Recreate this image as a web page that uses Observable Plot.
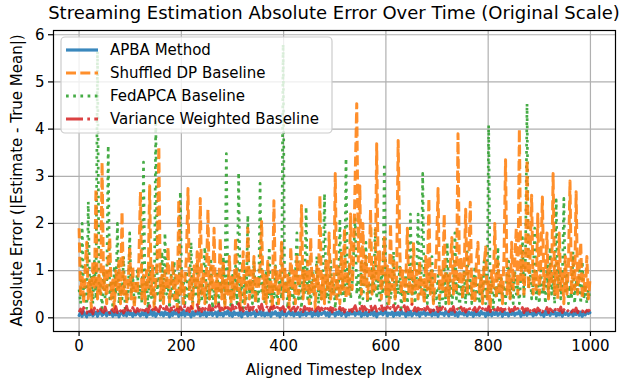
<!DOCTYPE html>
<html>
<head>
<meta charset="utf-8">
<script src="https://cdn.jsdelivr.net/npm/d3@7"></script>
<script src="https://cdn.jsdelivr.net/npm/@observablehq/plot@0.6"></script>
<style>
  html, body { margin: 0; padding: 0; background: white; }
  #chart svg { display: block; }
</style>
</head>
<body>
<div id="chart"></div>
<script>
// ---- data (one sample every 3 timesteps) ----
const titleText = "Streaming Estimation Absolute Error Over Time (Original Scale)";
const xLabel = "Aligned Timestep Index";
const yLabel = "Absolute Error (|Estimate - True Mean|)";
const xTicks = [0, 200, 400, 600, 800, 1000];
const yTicks = [0, 1, 2, 3, 4, 5, 6];
const sampleStep = 3;

const seriesNames = ["APBA Method", "Shuffled DP Baseline", "FedAPCA Baseline", "Variance Weighted Baseline"];

const apba = [
  .05,.11,.03,.13,.07,.02,.12,.06,.14,.04,.09,.12,.03,.1,.15,.05,.08,.13,.04,.11,
  .07,.14,.03,.1,.06,.12,.02,.09,.13,.05,.11,.04,.15,.07,.1,.03,.12,.06,.14,.08,
  .04,.11,.06,.13,.02,.1,.07,.15,.05,.12,.03,.09,.14,.06,.11,.04,.13,.07,.1,.02,
  .12,.05,.14,.08,.11,.03,.1,.06,.16,.04,.12,.07,.09,.02,.13,.05,.11,.08,.14,.04,
  .1,.06,.13,.03,.11,.07,.15,.05,.09,.12,.03,.14,.06,.1,.04,.12,.08,.15,.05,.11,
  .03,.13,.07,.1,.05,.14,.02,.11,.08,.12,.04,.16,.06,.09,.13,.03,.11,.07,.14,.05,
  .12,.04,.1,.06,.15,.03,.11,.08,.13,.05,.1,.02,.14,.07,.12,.04,.09,.13,.06,.11,
  .04,.14,.07,.11,.03,.12,.06,.15,.05,.1,.08,.13,.03,.11,.06,.14,.04,.12,.07,.1,
  .13,.05,.11,.03,.14,.08,.1,.04,.12,.07,.16,.05,.09,.13,.03,.11,.06,.14,.08,.12,
  .05,.12,.08,.14,.03,.1,.06,.13,.04,.11,.07,.15,.05,.12,.02,.1,.08,.13,.06,.11,
  .14,.04,.1,.07,.12,.03,.13,.06,.11,.05,.15,.08,.1,.03,.12,.06,.14,.04,.09,.12,
  .06,.13,.03,.11,.08,.14,.05,.1,.07,.12,.04,.16,.06,.11,.03,.13,.08,.1,.05,.14,
  .09,.04,.12,.07,.15,.05,.11,.03,.13,.08,.1,.06,.14,.04,.12,.07,.11,.03,.13,.06,
  .11,.05,.14,.08,.1,.03,.12,.06,.15,.04,.11,.07,.13,.05,.09,.12,.03,.14,.07,.1,
  .04,.12,.07,.13,.05,.1,.08,.15,.03,.11,.06,.14,.05,.12,.08,.1,.04,.13,.06,.11,
  .13,.06,.1,.03,.14,.07,.12,.05,.11,.08,.15,.04,.1,.06,.13,.03,.12,.07,.11,.05,
  .08,.13,.04,.11,.07,.14,.05,.12,.03,.1,.06,.13,.09,.11
];

const shuffledDP = [
  1.9,.5,.9,.3,1.1,1.6,.4,.8,.2,1.2,.6,2.74,.4,.9,.5,3.3,.6,1.0,.3,1.3,
  1.7,.4,.8,.2,1.0,.6,1.2,.3,2.25,.5,.9,.3,.7,1.5,.4,1.1,.2,.8,.5,1.2,
  2.67,.4,.9,.3,1.0,.6,2.8,.5,1.1,.2,.7,1.3,3.63,.4,.9,.3,1.0,.6,1.5,.3,
  .8,1.2,.4,.9,.2,2.5,.5,1.0,.3,.8,1.3,2.74,.4,.9,.2,1.1,.6,1.4,.3,2.53,
  .5,1.0,.3,.8,2.3,.4,1.1,.6,1.9,.3,.9,.5,1.7,.4,1.2,.2,.8,.5,1.3,.3,
  .9,.4,1.7,.6,1.0,.2,.8,1.4,.3,.7,1.9,.4,1.0,.5,1.3,.3,.9,.6,1.1,2.04,
  .4,.9,.3,1.2,.5,.8,.2,2.48,.6,1.0,.3,.8,1.6,.4,1.1,.5,.9,.2,1.5,.6,
  1.0,.3,1.3,.5,.8,2.38,.4,1.0,.6,1.2,.3,1.7,.5,.9,.2,1.1,.6,2.6,.4,.9,
  .3,1.2,.6,1.8,.4,.9,.5,3.06,.4,1.1,.3,1.4,.6,1.9,.4,1.0,.5,2.2,.6,1.3,
  3.0,4.54,1.2,2.8,.5,2.0,.7,1.3,.4,.9,2.3,.5,1.1,.6,3.69,.8,1.4,.4,1.0,1.7,
  .5,1.1,.3,2.0,.6,1.2,.4,.9,3.76,1.5,.5,1.0,.3,.8,1.9,.5,1.1,.3,1.6,.6,
  1.0,.4,1.2,.5,.8,.3,1.3,.6,2.53,.5,1.0,.3,.9,1.4,2.74,.4,1.0,.6,2.2,.4,
  .9,.3,1.1,1.7,.5,1.2,.6,3.9,.7,1.3,.4,1.0,2.3,.5,1.1,2.45,.4,.9,.3,1.2,
  1.6,.5,.9,.3,1.1,1.5,.4,.8,.2,1.0,.6,2.0,.4,1.2,.5,.9,.3,1.3,3.35,.5,
  1.0,.4,1.6,.6,1.2,1.9,.5,4.0,.8,1.4,.5,1.1,3.35,.6,1.3,2.6,.5,1.0,.6,2.2,
  .5,1.2,2.56,.6,1.0,1.8,.4,1.1,.7,3.06,.5,1.2,.4,1.8,.6,1.0,.3,1.3,.5,1.1,
  2.9,.5,1.2,.6,2.67,.5,1.0,1.6,.4,.9,.5,1.3,.4,.8
];

const fedAPCA = [
  .6,.3,2.0,.4,.8,.2,2.46,.5,.9,.3,1.2,.4,5.65,.5,.7,.2,1.0,.4,.6,3.65,
  .4,.8,.2,1.1,.5,2.0,.3,.7,.4,1.3,.2,.6,.4,1.8,.5,.9,.3,.6,1.0,.4,
  .7,.3,3.3,.5,.8,.2,1.1,.4,.6,.3,4.2,.5,.9,.3,1.4,.4,1.8,.5,.7,.2,
  .9,.4,1.2,.3,.6,.2,2.67,.5,.8,.3,1.0,.4,.6,1.6,.3,.8,.5,1.1,.2,.7,
  .4,.9,1.5,.3,.7,.4,1.2,.2,.6,.4,1.0,.3,.8,.5,1.3,.3,3.48,.5,.8,.2,
  .9,.4,1.1,.3,3.08,.5,.7,.2,1.0,.4,2.17,.5,.8,.3,1.2,.4,.6,.3,2.85,.5,
  .8,.3,1.0,.4,1.5,.2,.7,.4,1.1,.3,.6,.9,.4,5.8,.5,.8,.2,1.0,.4,.7,
  .3,.9,1.8,.4,.7,.2,1.1,.5,2.35,.4,.8,.3,1.0,.5,.7,1.3,.3,.6,.4,.9,
  2.63,.4,.8,.3,1.2,.5,.7,.2,1.0,.4,2.1,.5,.8,.3,3.38,.6,1.1,.4,.7,1.4,
  2.1,.5,.9,.3,1.2,.4,.8,1.6,.3,.7,.4,1.1,.5,1.9,.4,.8,.3,1.0,.5,3.27,
  .6,.3,.9,.4,.7,1.4,.3,.8,.5,1.1,.2,.6,.4,1.0,.3,.7,2.2,.5,.8,.3,
  .9,2.2,.5,.8,3.06,.4,.7,.3,1.0,.5,1.3,.3,.6,.4,.9,.2,.7,.4,1.1,.3,
  1.6,.4,.8,.3,.6,1.8,.4,.9,.2,.7,.4,1.0,.3,1.4,.5,.8,.3,.6,1.1,.4,
  .7,.3,.9,.4,1.2,.3,.6,4.08,.5,.8,.2,.7,.4,1.5,.3,.9,.5,.7,.3,1.0,
  1.2,.4,.8,.3,1.0,.5,.7,.3,.9,1.7,.4,1.3,4.54,.6,1.0,.4,.8,1.9,.4,.7,
  .3,1.0,.5,.8,.3,1.1,.4,1.5,.5,.9,.3,2.5,.6,1.0,.4,.8,2.53,.5,.9,.3,
  .7,.4,1.4,.3,.8,.5,1.0,.3,1.2,.4,.7,.3,.6,.4
];

const varianceWeighted = [
  .12,.19,.09,.22,.14,.1,.2,.13,.17,.08,.21,.12,.16,.1,.19,.14,.11,.23,.13,.17,
  .1,.2,.15,.12,.24,.11,.18,.14,.21,.1,.16,.25,.13,.19,.11,.22,.15,.12,.2,.14,
  .17,.11,.23,.15,.19,.12,.26,.14,.18,.11,.22,.16,.13,.25,.15,.2,.12,.24,.17,.14,
  .21,.13,.27,.16,.19,.12,.23,.18,.14,.26,.15,.21,.13,.24,.17,.2,.14,.28,.16,.19,
  .13,.25,.18,.22,.14,.27,.16,.2,.13,.24,.18,.29,.15,.21,.17,.26,.14,.22,.19,.16,
  .27,.15,.23,.18,.3,.16,.21,.14,.25,.19,.28,.15,.22,.17,.26,.2,.14,.24,.18,.29,
  .16,.22,.19,.27,.14,.23,.18,.25,.15,.21,.28,.16,.2,.24,.13,.22,.18,.26,.15,.2,
  .23,.14,.19,.25,.16,.21,.13,.24,.18,.2,.15,.26,.17,.22,.14,.19,.23,.15,.21,.17,
  .24,.13,.2,.16,.22,.12,.25,.17,.19,.14,.23,.16,.2,.12,.21,.18,.15,.24,.13,.19,
  .26,.15,.22,.18,.29,.14,.24,.17,.21,.13,.27,.16,.2,.25,.14,.23,.18,.28,.15,.21,
  .18,.24,.14,.22,.17,.27,.15,.2,.25,.13,.21,.18,.26,.14,.23,.17,.2,.29,.15,.22,
  .14,.21,.17,.25,.13,.2,.16,.24,.18,.12,.22,.15,.19,.26,.13,.21,.17,.23,.14,.2,
  .22,.13,.19,.16,.24,.12,.21,.17,.14,.23,.15,.2,.12,.18,.25,.14,.19,.16,.22,.13,
  .17,.23,.14,.2,.12,.19,.16,.24,.13,.21,.15,.18,.11,.22,.16,.2,.13,.25,.15,.19,
  .21,.13,.18,.15,.23,.12,.2,.17,.14,.22,.11,.19,.16,.24,.13,.2,.15,.18,.12,.21,
  .15,.2,.12,.18,.14,.22,.11,.19,.16,.13,.21,.12,.18,.15,.23,.11,.17,.2,.13,.16,
  .19,.12,.17,.14,.21,.11,.18,.15,.13,.2,.12,.16,.14,.18
];

// ---- styling ----
const seriesStyle = [
  {values: apba,             color: "#1f77b4", dash: null,             width: 3.0},
  {values: shuffledDP,       color: "#ff7f0e", dash: "10,4.3",         width: 3.0},
  {values: fedAPCA,          color: "#2ca02c", dash: "2.7,4.5",        width: 2.7},
  {values: varianceWeighted, color: "#d62728", dash: "17,4.3,2.7,4.3", width: 2.7}
];
const drawOrder = [0, 2, 1, 3];
const OP = 0.88;
const FONT = "DejaVu Sans, sans-serif";

const W = 629, H = 381;
const mL = 53, mR = 14, mT = 30, mB = 50;

const lineMarks = drawOrder.map(k => {
  const s = seriesStyle[k];
  const rows = s.values.map((v, i) => ({t: i * sampleStep, v, name: seriesNames[k]}));
  return Plot.line(rows, {
    x: "t", y: "v",
    stroke: s.color, strokeWidth: s.width, strokeOpacity: OP,
    strokeDasharray: s.dash || undefined,
    strokeLinecap: s.dash ? "butt" : "round", strokeLinejoin: "round"
  });
});

const plot = Plot.plot({
  width: W, height: H,
  marginLeft: mL, marginRight: mR, marginTop: mT, marginBottom: mB,
  style: {fontFamily: FONT, fontSize: "15px", color: "black", background: "white", overflow: "visible"},
  x: {domain: [-50, 1049], label: null},
  y: {domain: [-0.29, 6.09], label: null},
  marks: [
    Plot.gridX({ticks: xTicks, stroke: "#b0b0b0", strokeOpacity: 1, strokeWidth: 1.2}),
    Plot.gridY({ticks: yTicks, stroke: "#b0b0b0", strokeOpacity: 1, strokeWidth: 1.2}),
    ...lineMarks,
    Plot.frame({stroke: "black", strokeWidth: 1.2}),
    Plot.axisX({ticks: xTicks, tickFormat: d => String(d), tickSize: 5, tickPadding: 4, label: null, fontSize: 15, strokeWidth: 1.2}),
    Plot.axisY({ticks: yTicks, tickFormat: d => String(d), tickSize: 5, tickPadding: 4, label: null, fontSize: 15, strokeWidth: 1.2})
  ]
});

document.getElementById("chart").appendChild(plot);

// ---- title, axis labels and legend drawn into the same SVG ----
const svg = d3.select(plot);
const frameCx = mL + (W - mL - mR) / 2;
const frameCy = mT + (H - mT - mB) / 2;

svg.append("text")
  .attr("x", frameCx).attr("y", 19)
  .attr("text-anchor", "middle")
  .style("font-family", FONT).style("font-size", "18px").attr("fill", "black")
  .text(titleText);

svg.append("text")
  .attr("x", frameCx).attr("y", 375)
  .attr("text-anchor", "middle")
  .style("font-family", FONT).style("font-size", "15px").attr("fill", "black")
  .text(xLabel);

svg.append("text")
  .attr("transform", `translate(22,${frameCy}) rotate(-90)`)
  .attr("text-anchor", "middle")
  .style("font-family", FONT).style("font-size", "15px").attr("fill", "black")
  .text(yLabel);

const lg = svg.append("g");
lg.append("rect")
  .attr("x", 61).attr("y", 37).attr("width", 271).attr("height", 96)
  .attr("rx", 4).attr("ry", 4)
  .attr("fill", "white").attr("fill-opacity", 0.8)
  .attr("stroke", "#cccccc").attr("stroke-width", 1.2);
seriesNames.forEach((name, k) => {
  const y = 50 + k * 23;
  const s = seriesStyle[k];
  lg.append("line")
    .attr("x1", 66).attr("x2", 98).attr("y1", y).attr("y2", y)
    .attr("stroke", s.color).attr("stroke-width", 3.2).attr("stroke-opacity", OP)
    .attr("stroke-dasharray", s.dash || null)
    .attr("stroke-linecap", "butt");
  lg.append("text")
    .attr("x", 110).attr("y", y).attr("dy", "0.36em")
    .attr("text-anchor", "start")
    .style("font-family", FONT).style("font-size", "15px").attr("fill", "black")
    .text(name);
});
</script>
</body>
</html>
